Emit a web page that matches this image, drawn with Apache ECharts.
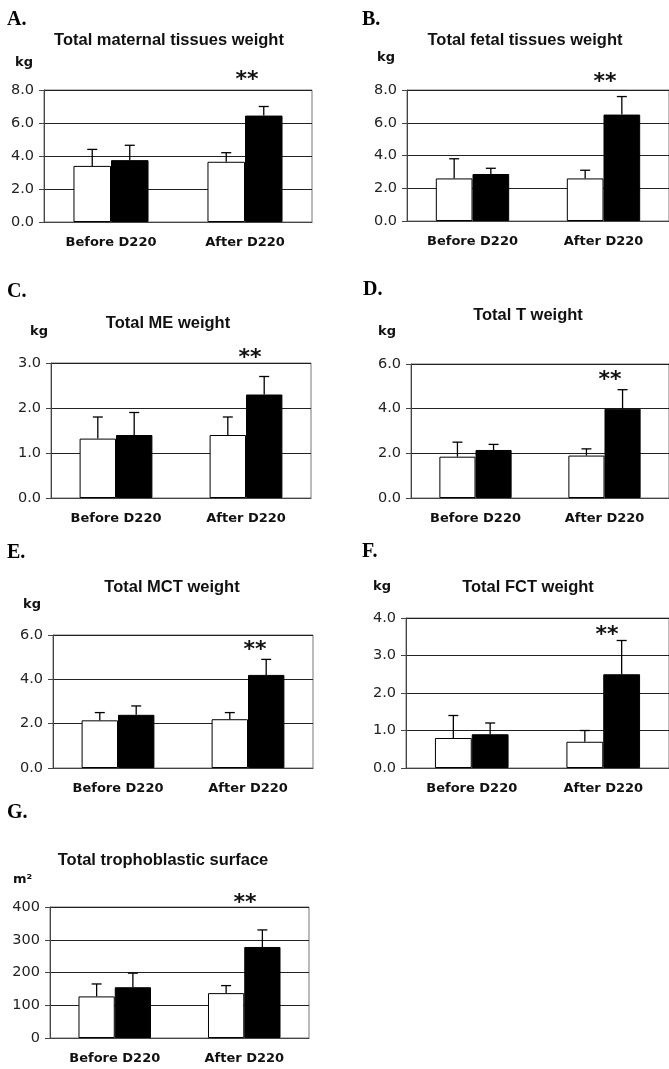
<!DOCTYPE html>
<html>
<head>
<meta charset="utf-8">
<script src="https://cdn.jsdelivr.net/npm/echarts@6/dist/echarts.min.js"></script>
<style>
  html, body { margin: 0; padding: 0; background: #fff; }
  #chart { width: 669px; height: 1069px; }
</style>
</head>
<body>
<div id="chart"></div>
<script>
// two groups per panel: white bars and black bars, mean + SD
const categories = ['Before D220', 'After D220'];
const panelLetters = ['A.', 'B.', 'C.', 'D.', 'E.', 'F.', 'G.'];
const panelTitles = [
    'Total maternal tissues weight', 'Total fetal tissues weight', 'Total ME weight',
    'Total T weight', 'Total MCT weight', 'Total FCT weight', 'Total trophoblastic surface'
];
const units = ['kg', 'kg', 'kg', 'kg', 'kg', 'kg', 'm²'];
const yMax = [8, 8, 3, 6, 6, 4, 400];
const yStep = [2, 2, 1, 2, 2, 1, 100];
const yDecimals = [1, 1, 1, 1, 1, 1, 0];
const whiteMean = [[3.4, 3.65], [2.6, 2.6], [1.32, 1.4], [1.85, 1.9], [2.15, 2.2], [0.8, 0.7], [127, 137]];
const whiteSd   = [[1.0, 0.55], [1.2, 0.5], [0.48, 0.4], [0.65, 0.3], [0.35, 0.3], [0.6, 0.3], [38, 23]];
const blackMean = [[3.75, 6.45], [2.87, 6.5], [1.4, 2.3], [2.15, 4.0], [2.4, 4.2], [0.9, 2.5], [155, 278]];
const blackSd   = [[0.9, 0.55], [0.35, 1.1], [0.5, 0.4], [0.25, 0.85], [0.4, 0.7], [0.3, 0.9], [43, 52]];
const signif = ['**', '**', '**', '**', '**', '**', '**'];

// page layout (pixels): grid = [left, top, width, height]
const LAYOUT = [
    { grid: [44, 90, 268, 132],  letter: [7, 20],    title: [169, 40],  unit: [15, 63],   star: [247, 80] },
    { grid: [407, 90, 263, 131], letter: [362, 20],  title: [525, 40],  unit: [377, 58],  star: [605, 82] },
    { grid: [51, 363, 260, 135], letter: [7, 292],   title: [168, 323], unit: [30, 332],  star: [250, 358] },
    { grid: [411, 364, 260, 134], letter: [363, 290], title: [528, 315], unit: [378, 332], star: [610, 380] },
    { grid: [53, 635, 260, 133], letter: [7, 553],   title: [172, 587], unit: [23, 605],  star: [255, 650] },
    { grid: [406, 618, 264, 150], letter: [362, 552], title: [528, 587], unit: [373, 587], star: [607, 635] },
    { grid: [50, 907, 259, 131], letter: [7, 813],   title: [163, 860], unit: [13, 880],  star: [245, 903] }
];

const BAR_W = 0.28;
const AXIS_COLOR = '#444';
const GRID_COLOR = '#222';

const chart = echarts.init(document.getElementById('chart'));

function errorBarSeries(i, means, sds, side) {
    return {
        type: 'custom', xAxisIndex: i, yAxisIndex: i, z: 5, silent: true,
        data: means.map((m, k) => [k, m, sds[k]]),
        renderItem: (params, api) => {
            const band = api.size([1, 0])[0];
            const top = api.coord([api.value(0), api.value(1) + api.value(2)]);
            const base = api.coord([api.value(0), api.value(1)]);
            const x = base[0] + side * band * BAR_W / 2;
            const st = { stroke: '#000', lineWidth: 1.3 };
            return { type: 'group', children: [
                { type: 'line', shape: { x1: x, y1: base[1], x2: x, y2: top[1] }, style: st },
                { type: 'line', shape: { x1: x - 5, y1: top[1], x2: x + 5, y2: top[1] }, style: st }
            ] };
        }
    };
}

const grids = [], xAxes = [], yAxes = [], series = [], graphics = [];
LAYOUT.forEach((L, i) => {
    grids.push({ left: L.grid[0], top: L.grid[1], width: L.grid[2], height: L.grid[3],
        show: true, borderColor: '#777', borderWidth: 1, backgroundColor: 'transparent' });
    xAxes.push({ type: 'category', gridIndex: i, data: categories,
        axisLine: { lineStyle: { color: AXIS_COLOR, width: 1 } },
        axisTick: { length: 5, lineStyle: { color: AXIS_COLOR } },
        axisLabel: { margin: 14, color: '#111', fontFamily: 'DejaVu Sans', fontWeight: 'bold', fontSize: 13 } });
    yAxes.push({ type: 'value', gridIndex: i, min: 0, max: yMax[i], interval: yStep[i],
        axisLine: { show: true, lineStyle: { color: AXIS_COLOR, width: 1 } },
        axisTick: { show: true, length: 5, lineStyle: { color: AXIS_COLOR } },
        splitLine: { lineStyle: { color: GRID_COLOR, width: 1 } },
        axisLabel: { margin: 10, color: '#222', fontFamily: 'DejaVu Sans', fontSize: 14.5,
            formatter: v => v.toFixed(yDecimals[i]) } });
    series.push({ type: 'bar', xAxisIndex: i, yAxisIndex: i, data: whiteMean[i],
        barWidth: (BAR_W * 100) + '%', barGap: '0%', silent: true,
        itemStyle: { color: '#fff', borderColor: '#000', borderWidth: 1 } });
    series.push({ type: 'bar', xAxisIndex: i, yAxisIndex: i, data: blackMean[i],
        barWidth: (BAR_W * 100) + '%', barGap: '0%', silent: true,
        itemStyle: { color: '#000', borderColor: '#000', borderWidth: 1 } });
    series.push(errorBarSeries(i, whiteMean[i], whiteSd[i], -1));
    series.push(errorBarSeries(i, blackMean[i], blackSd[i], 1));

    graphics.push({ type: 'text', x: L.letter[0], y: L.letter[1],
        style: { text: panelLetters[i], font: 'bold 20px "Liberation Serif"', fill: '#000', textVerticalAlign: 'middle' } });
    graphics.push({ type: 'text', x: L.title[0], y: L.title[1],
        style: { text: panelTitles[i], font: 'bold 16.5px "Liberation Sans"', fill: '#111', textAlign: 'center', textVerticalAlign: 'middle' } });
    graphics.push({ type: 'text', x: L.unit[0], y: L.unit[1],
        style: { text: units[i], font: 'bold 13px "DejaVu Sans"', fill: '#111', textVerticalAlign: 'middle' } });
    graphics.push({ type: 'text', x: L.star[0], y: L.star[1],
        style: { text: signif[i], font: 'bold 22px "DejaVu Sans"', fill: '#111', textAlign: 'center', textVerticalAlign: 'middle' } });
});

chart.setOption({
    animation: false,
    backgroundColor: '#fff',
    grid: grids, xAxis: xAxes, yAxis: yAxes, series: series, graphic: graphics
});
</script>
</body>
</html>
